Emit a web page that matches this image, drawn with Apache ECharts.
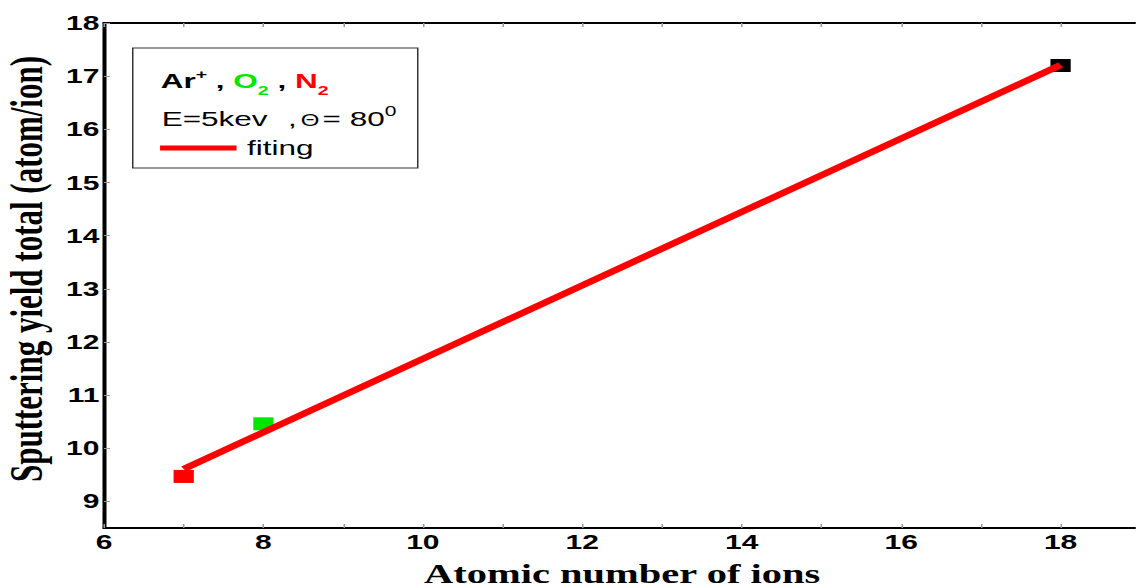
<!DOCTYPE html>
<html>
<head>
<meta charset="utf-8">
<script src="https://cdn.jsdelivr.net/npm/echarts@6/dist/echarts.min.js"></script>
<style>
html,body{margin:0;padding:0;background:#fff;overflow:hidden;width:1136px;height:588px;}
#wrap{position:absolute;left:0;top:0;width:1136px;height:588px;overflow:hidden;}
#chart{position:absolute;left:0;top:0;width:757.33px;height:588px;transform:scaleX(1.5);transform-origin:0 0;}
</style>
</head>
<body>
<div id="wrap"><div id="chart"></div></div>
<script>
// ---- data ----
const ions = ['N2', 'O2', 'Ar+'];
const atomicNumber = [7, 8, 18];
const yieldTotal = [9.47, 10.46, 17.2];
const fitX = [7, 18];
const fitY = [9.61, 17.21];
const xTicks = [6, 7, 8, 9, 10, 11, 12, 13, 14, 15, 16, 17, 18];
const xTickLabels = [6, 8, 10, 12, 14, 16, 18];
const yTickLabels = [9, 10, 11, 12, 13, 14, 15, 16, 17, 18];

// ---- styles ----
const ionColors = ['#ff0000', '#00e600', '#000000'];

const chart = echarts.init(document.getElementById('chart'), null, {renderer: 'svg'});

const scatterData = atomicNumber.map((x, i) => ({
  name: ions[i],
  value: [x, yieldTotal[i]],
  itemStyle: {color: ionColors[i], opacity: 1}
}));
const fitData = fitX.map((x, i) => [x, fitY[i]]);

const labelFont = {fontFamily: 'Liberation Sans', fontWeight: 'bold', fontSize: 20, color: '#000'};

const ctx = document.createElement('canvas').getContext('2d');
function measure(text, size, weight) {
  ctx.font = weight + ' ' + size + 'px "Liberation Sans"';
  return ctx.measureText(text).width;
}
// baseline-positioned text element
function txt(x, baseline, text, size, weight, color) {
  return {
    type: 'text', x: x, y: baseline - 0.35 * size, z: 20,
    style: {text: text, fontFamily: 'Liberation Sans', fontSize: size, fontWeight: weight, fill: color, verticalAlign: 'middle', align: 'left'}
  };
}
// lay out tokens one after another from x0
function flow(x0, baseline, tokens) {
  let x = x0;
  const out = [];
  tokens.forEach(t => {
    if (t.at != null) x = t.at;
    out.push(txt(x, baseline + (t.dy || 0), t.t, t.s, t.w, t.c));
    x += measure(t.t, t.s, t.w);
  });
  return out;
}

const line1 = flow(107.1, 88, [
  {t: 'Ar', s: 21, w: 'bold', c: '#000'},
  {t: '+', s: 13, w: 'bold', c: '#000', dy: -9},
  {t: ' , ', s: 21, w: 'bold', c: '#000'},
  {t: 'O', s: 21, w: 'bold', c: '#00e600'},
  {t: '2', s: 13, w: 'bold', c: '#00e600', dy: 7},
  {t: ' , ', s: 21, w: 'bold', c: '#000'},
  {t: 'N', s: 21, w: 'bold', c: '#ff0000'},
  {t: '2', s: 13, w: 'bold', c: '#ff0000', dy: 7}
]);
const line2 = flow(107.8, 126, [
  {t: 'E=5kev', s: 21, w: 'normal', c: '#000'},
  {t: ',', s: 21, w: 'normal', c: '#000', at: 192},
  {t: 'Θ', s: 16, w: 'normal', c: '#000', at: 200.5},
  {t: '= 80', s: 21, w: 'normal', c: '#000', at: 215},
  {t: '0', s: 14, w: 'normal', c: '#000', dy: -10}
]);

chart.setOption({
  animation: false,
  grid: {left: 69.33, right: -3.2, top: 23, bottom: 60, show: true, borderColor: '#000', borderWidth: 2,
         containLabel: false, outerBoundsMode: 'none'},
  xAxis: [{
    type: 'value', min: 6, max: 19, interval: 1, position: 'bottom',
    axisLine: {show: true, lineStyle: {color: '#000', width: 2}},
    axisTick: {show: true, inside: true, length: 4, lineStyle: {color: '#999', width: 1}, customValues: xTicks},
    axisLabel: Object.assign({margin: 4, customValues: xTickLabels}, labelFont),
    splitLine: {show: false},
    name: 'Atomic number of ions', nameLocation: 'middle', nameGap: 32,
    nameTextStyle: {fontFamily: 'Liberation Serif', fontWeight: 'bold', fontSize: 27, color: '#000'}
  }, {
    type: 'value', min: 6, max: 19, interval: 1, position: 'top',
    axisLine: {show: true, lineStyle: {color: '#000', width: 2}},
    axisTick: {show: true, inside: true, length: 4, lineStyle: {color: '#999', width: 1}, customValues: xTicks},
    axisLabel: {show: false},
    splitLine: {show: false}
  }],
  yAxis: {
    type: 'value', min: 8.5, max: 18,
    axisLine: {show: true, lineStyle: {color: '#000', width: 2}},
    axisTick: {show: true, inside: true, length: 4, lineStyle: {color: '#999', width: 1}, customValues: yTickLabels},
    axisLabel: Object.assign({margin: 3, customValues: yTickLabels}, labelFont),
    splitLine: {show: false},
    name: 'Sputtering yield total (atom/ion)', nameLocation: 'middle', nameGap: 35, nameRotate: 90,
    nameTextStyle: {fontFamily: 'Liberation Serif', fontWeight: 'bold', fontSize: 31, color: '#000', padding: [0, 0, 0, 13]}
  },
  legend: {
    data: ['fiting'], left: 106.7, top: 137.5, padding: 0, icon: 'rect', itemWidth: 51, itemHeight: 5, itemGap: 0,
    textStyle: {fontFamily: 'Liberation Sans', fontSize: 21, color: '#000', padding: [0, 0, 0, 2]}
  },
  graphic: [
    {type: 'rect', shape: {x: 88.5, y: 48, width: 190, height: 120}, style: {fill: 'none', stroke: '#333', lineWidth: 1}, z: 10}
  ].concat(line1, line2),
  series: [
    {
      type: 'scatter', name: 'ions', data: scatterData,
      symbol: 'rect', symbolSize: [13.5, 13], z: 2
    },
    {
      type: 'line', name: 'fiting', data: fitData, showSymbol: false, symbol: 'none', xAxisIndex: 0,
      lineStyle: {color: '#ff0000', width: 6}, itemStyle: {color: '#ff0000'}, z: 3
    }
  ]
});
</script>
</body>
</html>
